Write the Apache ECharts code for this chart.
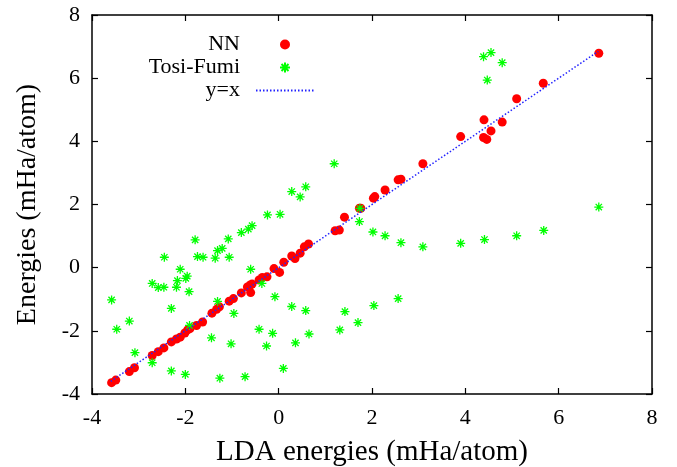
<!DOCTYPE html>
<html>
<head>
<meta charset="utf-8">
<script src="https://cdn.jsdelivr.net/npm/echarts@6/dist/echarts.min.js"></script>
<style>html,body{margin:0;padding:0;background:#fff;}#c{width:677px;height:467px;}</style>
</head>
<body>
<div id="c"></div>
<script>
const nnX = [-3.58,-3.49,-3.20,-3.09,-2.71,-2.58,-2.46,-2.30,-2.19,-2.11,-2.01,-1.95,-1.90,-1.76,-1.63,-1.43,-1.33,-1.27,-1.06,-0.97,-0.80,-0.67,-0.61,-0.57,-0.60,-0.42,-0.35,-0.25,-0.10,0.02,0.11,0.28,0.35,0.46,0.55,0.64,1.21,1.30,1.41,1.73,1.76,2.03,2.06,2.28,2.56,2.62,3.09,3.90,4.40,4.39,4.46,4.55,4.79,5.10,5.67,6.86];
const nnY = [-3.64,-3.56,-3.29,-3.17,-2.78,-2.66,-2.54,-2.35,-2.26,-2.20,-2.07,-1.97,-1.93,-1.83,-1.72,-1.44,-1.32,-1.24,-1.06,-0.98,-0.80,-0.61,-0.55,-0.52,-0.79,-0.39,-0.31,-0.29,-0.03,-0.15,0.17,0.37,0.29,0.46,0.66,0.75,1.17,1.19,1.60,1.88,1.88,2.20,2.25,2.46,2.78,2.80,3.29,4.15,4.68,4.12,4.06,4.33,4.61,5.35,5.84,6.79];
const tfX = [-0.24,0.03,-0.80,-0.65,-0.57,-1.08,-1.79,-2.45,-1.74,-1.62,-1.36,-1.31,-1.21,-1.06,-2.11,-1.96,-1.99,-2.71,-2.58,-2.46,-2.17,-2.19,-1.92,-0.60,-0.36,-3.58,-1.31,-0.08,-2.30,-0.96,0.28,-3.20,-3.47,-1.91,-0.42,-1.44,-0.13,-1.02,-0.26,-3.08,-2.71,-2.30,-2.00,0.10,-1.26,-0.72,1.74,1.73,2.02,2.28,2.62,3.09,3.90,0.58,1.42,2.04,2.56,1.70,1.31,0.65,0.36,4.41,5.10,5.68,6.86,4.39,4.55,4.79,4.47,1.19,0.28,0.46,0.58];
const tfY = [1.67,1.69,1.11,1.22,1.33,0.91,0.88,0.33,0.35,0.33,0.30,0.54,0.61,0.33,-0.05,-0.27,-0.34,-0.50,-0.63,-0.62,-0.41,-0.62,-0.76,-0.05,-0.50,-1.02,-1.07,-0.92,-1.29,-1.45,-1.23,-1.69,-1.95,-1.83,-1.95,-2.22,-2.08,-2.41,-2.48,-2.69,-3.01,-3.27,-3.38,-3.19,-3.50,-3.45,1.88,1.46,1.13,1.01,0.79,0.66,0.77,-1.36,-1.39,-1.20,-0.98,-1.74,-1.97,-2.10,-2.38,0.89,1.01,1.18,1.92,6.68,6.81,6.49,5.94,3.29,2.41,2.24,2.56];
const lineX = [-3.6, 6.85];
const seriesNames = ['NN', 'Tosi-Fumi', 'y=x'];
const xTitle = 'LDA energies (mHa/atom)';
const yTitle = 'Energies (mHa/atom)';

const FONT = '"Liberation Serif", "Times New Roman", serif';
const zip = (a, b) => a.map((v, i) => [v, b[i]]);
const star = 'path://M0,5L10,5M5,0L5,10M1.5,1.5L8.5,8.5M8.5,1.5L1.5,8.5';

const axisCommon = {
  type: 'value', min: -4, max: 8, interval: 2,
  axisLine: { show: true, onZero: false, lineStyle: { color: '#000', width: 1.5 } },
  axisTick: { show: true, inside: true, length: 6, lineStyle: { color: '#000', width: 1.2 } },
  splitLine: { show: false }
};

const chart = echarts.init(document.getElementById('c'), null, { renderer: 'canvas' });
chart.setOption({
  animation: false,
  backgroundColor: '#fff',
  textStyle: { fontFamily: FONT, color: '#000' },
  grid: { left: 92, right: 25, top: 15, bottom: 73, containLabel: false, outerBoundsMode: 'none' },
  legend: {
    orient: 'vertical', align: 'right', right: 362, top: 33, padding: 0,
    itemWidth: 58, itemHeight: 10, itemGap: 0,
    formatter: function (n) { return n + '  '; },
    textStyle: { fontFamily: FONT, fontSize: 22, color: '#000', lineHeight: 23 },
    data: [seriesNames[0], seriesNames[1], { name: seriesNames[2], itemStyle: { opacity: 0 } }]
  },
  xAxis: [
    Object.assign({}, axisCommon, {
      position: 'bottom',
      name: xTitle, nameLocation: 'middle', nameGap: 44,
      nameTextStyle: { fontFamily: FONT, fontSize: 29, color: '#000' },
      axisLabel: { fontFamily: FONT, fontSize: 22, color: '#000', margin: 13 }
    }),
    Object.assign({}, axisCommon, { position: 'top', axisLabel: { show: false } })
  ],
  yAxis: [
    Object.assign({}, axisCommon, {
      position: 'left',
      name: yTitle, nameLocation: 'middle', nameGap: 50,
      nameTextStyle: { fontFamily: FONT, fontSize: 28, color: '#000' },
      axisLabel: { fontFamily: FONT, fontSize: 22, color: '#000', margin: 12 }
    }),
    Object.assign({}, axisCommon, { position: 'right', axisLabel: { show: false } })
  ],
  series: [
    {
      name: seriesNames[0], type: 'scatter', data: zip(nnX, nnY),
      symbol: 'circle', symbolSize: 9,
      itemStyle: { color: '#ff0000', opacity: 1 }
    },
    {
      name: seriesNames[1], type: 'scatter', data: zip(tfX, tfY),
      symbol: star, symbolSize: 9,
      itemStyle: { color: '#00ff00', borderColor: '#00ff00', borderWidth: 1.3, opacity: 1 }
    },
    {
      name: seriesNames[2], type: 'line', data: zip(lineX, lineX),
      symbol: 'none', showSymbol: false,
      lineStyle: { color: '#2222ff', width: 1.5, type: [1.5, 2] },
      itemStyle: { color: 'rgba(0,0,0,0)' }
    }
  ]
});
</script>
</body>
</html>
